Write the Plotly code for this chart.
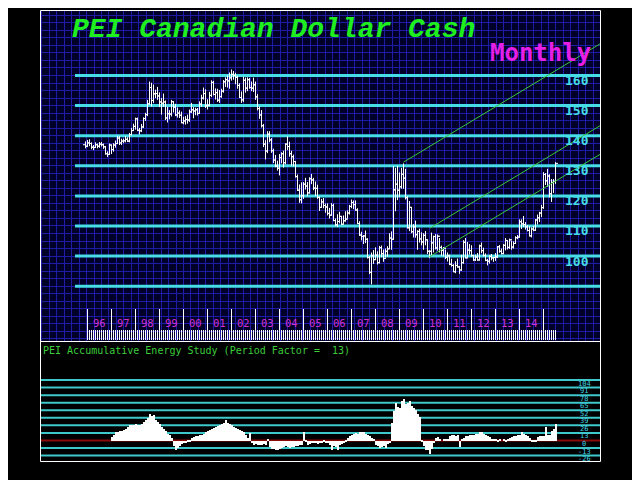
import plotly.graph_objects as go

# ---------------- data ----------------
# month index: Jan 1996 = 0 ; first bar is Dec 1995 (-1)
first_month = -1
first_open = 137.0

closes = [
    136.5,
    137.6, 137.4, 136.2, 136.1, 137.0, 136.5, 137.2, 137.0, 136.3, 134.0, 133.8, 136.9,  # 1996
    135.4, 136.9, 137.4, 139.2, 137.6, 138.2, 138.3, 138.8, 138.2, 140.4, 141.7, 143.1,  # 1997
    145.6, 141.8, 141.6, 142.9, 145.7, 147.0, 150.6, 156.0, 151.7, 153.9, 154.0, 153.2,  # 1998
    151.2, 150.8, 151.2, 145.9, 147.3, 147.2, 151.3, 149.5, 146.9, 147.5, 146.8, 144.3,  # 1999
    144.9, 145.4, 145.2, 147.9, 148.6, 148.2, 148.6, 147.4, 150.5, 152.5, 154.0, 149.9,  # 2000
    150.1, 153.4, 157.7, 153.7, 154.3, 151.8, 153.0, 154.8, 157.9, 158.6, 158.2, 159.2,  # 2001
    160.4, 160.0, 159.4, 156.7, 152.7, 151.9, 158.4, 155.8, 158.6, 156.0, 155.8, 156.9,  # 2002
    152.9, 149.0, 146.9, 143.3, 137.2, 134.9, 140.5, 138.6, 135.0, 131.9, 129.9, 129.2,  # 2003
    132.7, 134.0, 131.0, 137.2, 136.4, 134.0, 133.0, 131.4, 126.4, 121.9, 118.7, 120.1,  # 2004
    123.9, 123.3, 121.0, 125.7, 125.3, 122.6, 122.5, 119.5, 116.2, 118.0, 116.8, 116.3,  # 2005
    114.2, 113.6, 116.8, 111.8, 110.4, 111.5, 113.2, 110.6, 111.7, 112.3, 114.3, 116.5,  # 2006
    117.8, 117.1, 115.3, 110.8, 107.0, 106.5, 106.7, 105.6, 99.5, 94.6, 100.1, 98.8,     # 2007
    100.3, 97.8, 102.8, 100.8, 99.2, 101.6, 102.4, 106.0, 105.6, 122.0, 123.9, 121.9,    # 2008
    123.0, 127.2, 125.9, 119.4, 109.4, 116.2, 108.1, 109.7, 107.1, 108.2, 105.7, 104.7,  # 2009
    106.9, 105.4, 101.6, 101.6, 104.4, 106.5, 102.7, 106.6, 102.9, 101.9, 102.6, 99.6,   # 2010
    100.1, 97.3, 96.9, 94.8, 96.9, 96.4, 95.4, 97.8, 104.6, 99.4, 102.0, 101.8,          # 2011
    100.2, 98.7, 99.7, 98.7, 103.4, 101.8, 100.2, 98.6, 98.3, 99.9, 99.4, 99.5,          # 2012
    99.7, 103.1, 101.6, 100.8, 103.6, 105.2, 102.9, 105.4, 103.0, 104.2, 106.1, 106.3,   # 2013
    111.4, 110.7, 110.5, 109.7, 108.5, 106.7, 109.0, 108.6, 112.0, 112.7, 114.3, 116.1,  # 2014
    127.1, 125.0, 126.6, 120.7, 124.5, 124.8, 130.8,                                     # 2015
]
highs = [
    138.1,
    138.6, 138.8, 137.8, 136.9, 137.8, 137.4, 137.9, 137.9, 137.4, 136.6, 134.8, 137.4,
    137.0, 137.5, 138.4, 140.0, 139.8, 139.0, 139.0, 139.9, 139.5, 140.9, 142.6, 144.0,
    146.0, 146.0, 142.6, 143.9, 146.1, 147.6, 151.9, 158.0, 157.6, 157.0, 155.3, 156.2,
    154.4, 152.5, 154.0, 151.7, 149.6, 148.5, 151.9, 151.3, 150.6, 149.4, 148.4, 148.0,
    146.3, 146.5, 147.0, 148.7, 150.9, 149.5, 149.3, 149.2, 151.4, 153.6, 156.0, 155.4,
    152.1, 154.6, 158.4, 158.2, 155.7, 155.6, 155.2, 155.6, 158.5, 159.4, 160.0, 161.0,
    162.0, 161.5, 160.9, 159.9, 157.4, 154.7, 159.6, 159.3, 159.4, 159.2, 158.0, 159.3,
    158.0, 153.8, 149.7, 148.5, 143.9, 138.5, 141.5, 141.5, 139.2, 135.7, 133.6, 131.7,
    133.9, 134.5, 135.0, 137.4, 139.8, 138.0, 135.0, 133.7, 131.6, 127.1, 123.8, 124.5,
    124.6, 126.0, 124.6, 126.2, 127.3, 126.0, 124.8, 123.7, 119.8, 119.0, 119.3, 117.5,
    117.5, 116.0, 117.6, 117.4, 112.5, 113.9, 114.7, 113.2, 113.5, 114.9, 115.2, 117.0,
    118.8, 118.5, 118.5, 115.9, 111.6, 108.1, 107.0, 108.5, 105.9, 100.0, 101.2, 102.0,
    102.9, 101.6, 103.4, 103.5, 102.2, 102.5, 103.3, 107.6, 108.2, 129.9, 129.3, 130.0,
    127.8, 129.3, 130.8, 129.0, 120.0, 118.3, 116.3, 110.6, 111.8, 108.6, 109.1, 107.9,
    107.6, 108.3, 105.5, 101.9, 107.8, 106.8, 107.3, 107.2, 106.0, 103.5, 103.0, 102.2,
    101.2, 100.5, 99.1, 97.3, 98.3, 99.2, 96.7, 100.4, 105.3, 106.0, 104.7, 104.0,
    103.6, 100.4, 100.5, 101.0, 103.8, 104.5, 102.8, 100.9, 99.1, 100.3, 100.7, 99.7,
    101.0, 103.3, 103.7, 102.5, 104.0, 106.0, 105.0, 105.8, 105.0, 104.9, 106.6, 107.0,
    112.2, 112.2, 113.3, 111.3, 110.3, 109.9, 109.5, 110.0, 112.3, 113.8, 114.7, 117.0,
    127.9, 127.6, 129.0, 127.2, 125.6, 125.6, 131.2,
]
lows = [
    135.8,
    136.2, 136.5, 135.5, 135.2, 135.9, 135.8, 136.0, 136.4, 135.6, 133.7, 132.9, 133.7,
    133.9, 134.7, 136.0, 137.2, 136.9, 136.9, 137.5, 137.8, 137.9, 137.8, 140.1, 141.6,
    142.0, 141.5, 140.4, 141.2, 142.6, 144.9, 146.5, 150.3, 149.7, 150.9, 152.5, 151.9,
    149.5, 147.0, 149.6, 145.2, 144.4, 145.4, 146.4, 147.7, 146.5, 146.0, 145.9, 144.2,
    143.8, 143.7, 144.0, 144.6, 147.6, 145.8, 146.8, 146.7, 147.3, 149.6, 152.0, 149.2,
    148.7, 149.8, 152.8, 153.4, 152.0, 151.2, 150.9, 152.6, 154.3, 156.2, 156.0, 155.6,
    158.3, 158.6, 157.1, 155.6, 152.5, 150.9, 151.2, 154.3, 154.8, 155.6, 154.8, 154.5,
    151.9, 148.4, 145.6, 142.7, 136.2, 132.1, 134.2, 137.8, 134.3, 130.9, 129.5, 128.4,
    126.8, 130.8, 129.4, 130.5, 135.2, 133.0, 130.0, 129.8, 126.1, 121.6, 117.7, 117.5,
    119.0, 122.1, 119.9, 120.8, 123.9, 121.9, 120.0, 119.0, 115.0, 116.1, 115.9, 114.4,
    113.5, 112.5, 113.4, 111.6, 109.9, 109.7, 110.9, 110.4, 110.7, 111.5, 112.5, 113.8,
    115.9, 115.6, 115.1, 110.8, 106.7, 105.2, 104.0, 104.3, 99.2, 94.0, 90.6, 97.4,
    98.7, 97.2, 97.6, 99.6, 98.1, 99.5, 99.8, 102.4, 102.1, 105.4, 114.9, 118.6,
    119.6, 122.4, 122.4, 118.8, 109.2, 108.3, 107.6, 106.2, 106.1, 102.1, 104.5, 103.6,
    102.1, 103.6, 100.7, 99.3, 100.1, 101.2, 102.2, 101.8, 101.2, 100.1, 99.9, 99.0,
    98.2, 97.0, 96.5, 94.8, 94.3, 96.2, 94.1, 95.1, 97.5, 99.3, 99.4, 100.5,
    99.8, 98.4, 98.4, 98.5, 98.6, 101.0, 99.9, 98.3, 96.9, 97.5, 98.6, 98.1,
    98.4, 99.4, 101.1, 100.6, 100.7, 101.9, 102.2, 102.4, 102.1, 102.5, 104.2, 105.6,
    106.2, 109.0, 109.6, 108.8, 108.2, 106.6, 106.2, 108.3, 108.5, 110.5, 111.3, 113.0,
    115.7, 123.6, 123.0, 119.5, 118.0, 121.0, 124.0,
]

# Accumulative Energy Study histogram, starting Jan 1997 (month 12)
energy_first_month = 12
energy = [
    6, 10, 14, 15, 16, 17, 18, 20, 24, 26, 27, 27,           # 1997
    28, 27, 26, 28, 32, 35, 38, 45, 42, 44, 35, 32,          # 1998
    28, 24, 20, 16, 12, 10, 5, -10, -16, -13, -9, -6,        # 1999
    -5, -4, -3, -2, 4, 6, 7, 8, 9, 10, 12, 15,               # 2000
    16, 18, 20, 22, 24, 25, 26, 28, 30, 35, 30, 28,          # 2001
    26, 24, 22, 20, 18, 16, 15, 10, 5, 13, -5, -8,           # 2002
    -6, -7, -8, -7, -6, -8, 3, -12, -14, -15, -16, -17,      # 2003
    -15, -13, -12, -10, -12, -13, -11, -12, -10, -9, -8, -7, # 2004
    14, -3, -8, -6, -5, -4, -5, -6, -4, -5, -3, -4,          # 2005
    -5, -8, -17, -10, -12, -17, -8, -6, -5, -3, 4, 8,        # 2006
    10, 12, 13, 12, 14, 15, 14, 12, 10, 8, 5, 3,             # 2007
    -8, -10, -13, -12, -9, -13, -6, -4, 30, 50, 65, 58,      # 2008
    56, 68, 71, 62, 65, 68, 60, 56, 52, 45, 40, -3,          # 2009
    -10, -16, -16, -24, -14, -4, 5, 6, 2, 0, 1, 3,           # 2010
    3, 8, 10, 9, 8, 10, -12, 2, 5, 7, 8, 9,                  # 2011
    9, 10, 11, 12, 14, 15, 12, 10, 8, 6, 3, 1,               # 2012
    2, -2, 1, 0, 3, -1, 2, 4, 6, 7, 8, 9,                    # 2013
    10, 15, 12, 9, 7, 4, -3, -3, -2, 6, 7, 8,                # 2014
    8, 23, 9, 10, 17, 20, 29,                                # 2015
]

price_levels = [160, 150, 140, 130, 120, 110, 100, 90]
price_labels = ["160", "150", "140", "130", "120", "110", "100"]
energy_levels = [104, 91, 78, 65, 52, 39, 26, 13, 0, -13, -26]
energy_labels = ["104", "91", "78", "65", "52", "39", "26", "13", "0", "-13", "-26"]
year_labels = ["96", "97", "98", "99", "00", "01", "02", "03", "04", "05",
               "06", "07", "08", "09", "10", "11", "12", "13", "14"]
year_ticks = [12 * k for k in range(len(year_labels) + 1)]

# green channel lines: start (month, value) -> end (month, value)
trend_x0 = [158.0, 171.25, 170.9]
trend_y0 = [131.2, 109.3, 99.7]
trend_x1 = [256.25, 256.25, 256.25]
trend_y1 = [170.5, 143.3, 133.8]

# ---------------- layout constants ----------------
W, H = 640, 480
PAGE_OFF = 8          # the page body margin shifts the figure by 8 px
X_RANGE = [-23.75, 256.25]
Y_RANGE = [71.79, 181.76]
Y2_RANGE = [-35.25, 171.05]
LINE_X0 = -6.25
BG = "#000028"
GRID = "#1c1ca4"
CYAN = "#46dde6"
CYAN2 = "#3ec8cc"


def fx(p):
    return (p - PAGE_OFF) / W


def fy(p):
    return 1 - (p - PAGE_OFF) / H


months = list(range(first_month, first_month + len(closes)))
opens = [first_open] + closes[:-1]

fig = go.Figure()

# cyan price levels
lx, ly = [], []
for v in price_levels:
    lx += [LINE_X0, X_RANGE[1], None]
    ly += [v, v, None]
fig.add_trace(go.Scatter(x=lx, y=ly, mode="lines", line=dict(color=CYAN, width=3),
                         xaxis="x", yaxis="y", hoverinfo="skip"))

# OHLC bars
TK = 1.25
bx, by = [], []
for m, o, h, l, c in zip(months, opens, highs, lows, closes):
    bx += [m, m, None, m - TK, m, None, m, m + TK, None]
    by += [l, h, None, o, o, None, c, c, None]
fig.add_trace(go.Scatter(x=bx, y=by, mode="lines", line=dict(color="white", width=1),
                         xaxis="x", yaxis="y", hoverinfo="skip"))

# trend lines
tx, ty = [], []
for a, b, c, d in zip(trend_x0, trend_y0, trend_x1, trend_y1):
    tx += [a, c, None]
    ty += [b, d, None]
fig.add_trace(go.Scatter(x=tx, y=ty, mode="lines", line=dict(color="#3cc83c", width=1),
                         xaxis="x", yaxis="y", hoverinfo="skip"))

# energy histogram
energy_months = list(range(energy_first_month, energy_first_month + len(energy)))
fig.add_trace(go.Bar(x=energy_months, y=energy, width=1, offset=-0.25,
                     marker=dict(color="white", line=dict(width=0)),
                     xaxis="x2", yaxis="y2", hoverinfo="skip"))

annotations = []
annotations.append(dict(xref="paper", yref="paper", x=fx(273.5), y=fy(30),
                        xanchor="center", yanchor="middle", showarrow=False,
                        text="<b><i>PEI Canadian Dollar Cash</i></b>",
                        font=dict(family="Liberation Mono", size=28, color="#1fef1f")))
annotations.append(dict(xref="paper", yref="paper", x=fx(540), y=fy(53),
                        xanchor="center", yanchor="middle", showarrow=False,
                        text="<b>Monthly</b>",
                        font=dict(family="DejaVu Sans Mono", size=24, color="#e61ee6")))
for v, t in zip(price_levels, price_labels):
    annotations.append(dict(xref="paper", yref="y", x=fx(591), y=v, yshift=-5,
                            xanchor="right", yanchor="middle", showarrow=False,
                            text="<b>" + t + "</b>",
                            font=dict(family="DejaVu Sans Mono", size=13, color=CYAN)))
for m, t in zip(year_ticks, year_labels):
    annotations.append(dict(xref="x", yref="paper", x=m, y=fy(322.7), xshift=3,
                            xanchor="left", yanchor="middle", showarrow=False, text=t,
                            font=dict(family="DejaVu Sans Mono", size=10.5, color="#d22fd2")))
annotations.append(dict(xref="paper", yref="paper", x=fx(41), y=fy(350),
                        xanchor="left", yanchor="middle", showarrow=False,
                        text="PEI Accumulative Energy Study (Period Factor =\u00a0\u00a013)",
                        font=dict(family="DejaVu Sans Mono", size=10, color="#3ccc3c")))
for v, t in zip(energy_levels, energy_labels):
    annotations.append(dict(xref="paper", yref="y2", x=fx(584), y=v, yshift=-3.5,
                            xanchor="center", yanchor="middle", showarrow=False, text=t,
                            borderpad=0,
                            font=dict(family="DejaVu Sans Mono", size=7, color="#40d0e0")))

shapes = [
    dict(type="rect", xref="paper", yref="paper", x0=fx(40), x1=fx(600), y0=fy(341), y1=fy(10),
         fillcolor=BG, line=dict(width=0), layer="below"),
]
# energy panel level lines, drawn beneath the histogram bars
for v in energy_levels:
    shapes.append(dict(type="line", xref="x2", yref="y2", x0=X_RANGE[0], x1=X_RANGE[1],
                       y0=v, y1=v, layer="below",
                       line=dict(color="#8a0a0a" if v == 0 else CYAN2, width=2)))
shapes += [
    dict(type="rect", xref="paper", yref="paper", x0=fx(40.5), x1=fx(600.5),
         y0=fy(461.5), y1=fy(10.5), line=dict(color="white", width=1), fillcolor="rgba(0,0,0,0)"),
    dict(type="line", xref="paper", yref="paper", x0=fx(40.5), x1=fx(600.5),
         y0=fy(341.5), y1=fy(341.5), line=dict(color="white", width=1)),
]

fig.update_layout(
    width=W, height=H, margin=dict(l=0, r=0, t=0, b=0),
    paper_bgcolor="black", plot_bgcolor="black", showlegend=False,
    bargap=0,
    xaxis=dict(domain=[fx(40), fx(600)], range=X_RANGE, anchor="y", showgrid=True,
               gridcolor=GRID, gridwidth=1, tick0=-22.8, dtick=3.725,
               showticklabels=False, ticks="", zeroline=False, showline=False),
    yaxis=dict(domain=[fy(341), fy(10)], range=Y_RANGE, anchor="x", showgrid=True,
               gridcolor=GRID, gridwidth=1, tick0=0, dtick=2.5,
               showticklabels=False, ticks="", zeroline=False, showline=False),
    xaxis2=dict(domain=[fx(40), fx(600)], range=X_RANGE, anchor="y2", side="top",
                showgrid=False, zeroline=False, showline=False,
                tickmode="array", tickvals=year_ticks, ticks="outside", ticklen=31,
                tickcolor="white", tickwidth=1, showticklabels=False,
                minor=dict(tickmode="array", tickvals=list(range(0, months[-1] + 1)),
                           ticks="outside", ticklen=10, tickcolor="white", tickwidth=1,
                           showgrid=False)),
    yaxis2=dict(domain=[fy(461), fy(341)], range=Y2_RANGE, anchor="x2", showgrid=False,
                zeroline=False, showticklabels=False, ticks="", showline=False),
    annotations=annotations,
    shapes=shapes,
)

fig.write_html("out.html")
